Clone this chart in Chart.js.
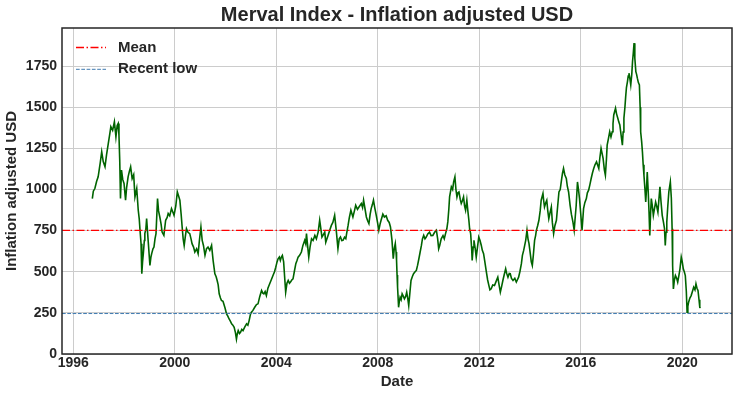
<!DOCTYPE html>
<html><head><meta charset="utf-8">
<script src="https://cdn.jsdelivr.net/npm/chart.js@4.4.1/dist/chart.umd.min.js"></script>
<style>html,body{margin:0;padding:0;background:#fff;}#wrap{width:738px;height:397px;}</style>
</head><body><div id="wrap"><canvas id="c" width="738" height="397"></canvas></div>
<script>
const TITLE = 'Merval Index - Inflation adjusted USD';
const X_LABEL = 'Date';
const Y_LABEL = 'Inflation adjusted USD';
const LEGEND_LABELS = ['Mean', 'Recent low'];
const X_TICKS = [1996, 2000, 2004, 2008, 2012, 2016, 2020];
const Y_TICKS = [0, 250, 500, 750, 1000, 1250, 1500, 1750];
const X_MIN = 1995.555, X_MAX = 2021.96, Y_MIN = 0, Y_MAX = 1982;
const MEAN_VALUE = 752;
const RECENT_LOW_VALUE = 246;

const dates = [
1996.75,1996.79,1996.85,1996.92,1996.98,
1997.06,1997.12,1997.18,1997.25,1997.31,1997.38,1997.44,1997.48,1997.55,1997.62,1997.68,1997.73,1997.77,1997.80,1997.83,1997.86,1997.90,1997.95,
1998.00,1998.06,1998.10,1998.16,1998.21,1998.26,1998.32,1998.38,1998.43,1998.50,1998.56,1998.60,1998.63,1998.67,1998.70,1998.73,1998.76,1998.80,1998.82,1998.86,1998.89,1998.95,
1999.02,1999.06,1999.09,1999.14,1999.18,1999.22,1999.26,1999.32,1999.36,1999.41,1999.46,1999.50,1999.57,1999.64,1999.70,1999.74,1999.80,1999.87,1999.93,1999.97,
2000.04,2000.10,2000.15,2000.20,2000.25,2000.29,2000.33,2000.37,2000.42,2000.46,2000.52,2000.59,2000.64,2000.68,2000.74,2000.79,2000.86,2000.92,2000.97,
2001.03,2001.08,2001.13,2001.19,2001.25,2001.31,2001.38,2001.45,2001.51,2001.58,2001.63,2001.67,2001.71,2001.75,2001.80,2001.84,2001.90,2001.93,2001.98,
2002.04,2002.09,2002.14,2002.19,2002.24,2002.29,2002.34,2002.39,2002.43,2002.46,2002.50,2002.55,2002.59,2002.64,2002.69,2002.76,2002.83,2002.88,2002.93,2002.98,
2003.02,2003.08,2003.15,2003.22,2003.28,2003.35,2003.42,2003.47,2003.51,2003.56,2003.61,2003.67,2003.74,2003.80,2003.87,2003.93,2003.98,
2004.03,2004.07,2004.12,2004.16,2004.20,2004.24,2004.29,2004.33,2004.37,2004.42,2004.47,2004.52,2004.56,2004.61,2004.66,2004.71,2004.77,2004.82,2004.86,2004.92,2004.99,
2005.05,2005.12,2005.16,2005.19,2005.24,2005.28,2005.33,2005.39,2005.45,2005.52,2005.58,2005.65,2005.71,2005.74,2005.80,2005.84,2005.91,2005.95,
2006.04,2006.10,2006.17,2006.23,2006.30,2006.37,2006.43,2006.48,2006.53,2006.58,2006.63,2006.69,2006.74,2006.78,2006.83,2006.88,2006.94,
2007.02,2007.08,2007.13,2007.20,2007.26,2007.35,2007.40,2007.44,2007.50,2007.55,2007.60,2007.65,2007.70,2007.74,2007.79,2007.83,2007.88,2007.94,2007.99,
2008.04,2008.09,2008.13,2008.20,2008.26,2008.33,2008.39,2008.45,2008.50,2008.56,2008.61,2008.65,2008.69,2008.72,2008.74,2008.76,2008.78,2008.82,2008.85,2008.88,2008.92,2008.96,
2009.01,2009.05,2009.10,2009.14,2009.18,2009.22,2009.27,2009.31,2009.36,2009.41,2009.47,2009.52,2009.57,2009.62,2009.67,2009.72,2009.76,2009.81,2009.86,2009.91,2009.97,
2010.04,2010.10,2010.17,2010.24,2010.31,2010.36,2010.40,2010.44,2010.50,2010.57,2010.62,2010.67,2010.72,2010.76,2010.80,2010.83,2010.87,2010.90,2010.95,2010.99,
2011.04,2011.08,2011.12,2011.16,2011.20,2011.25,2011.29,2011.33,2011.38,2011.42,2011.46,2011.51,2011.55,2011.59,2011.62,2011.66,2011.70,2011.72,2011.76,2011.79,2011.84,2011.88,2011.93,2011.98,
2012.03,2012.08,2012.12,2012.17,2012.22,2012.27,2012.33,2012.38,2012.42,2012.47,2012.53,2012.60,2012.66,2012.73,2012.78,2012.83,2012.88,2012.93,2012.98,
2013.04,2013.08,2013.13,2013.18,2013.22,2013.27,2013.33,2013.40,2013.46,2013.50,2013.55,2013.60,2013.66,2013.70,2013.75,2013.79,2013.83,2013.88,2013.92,2013.96,
2014.01,2014.05,2014.09,2014.13,2014.18,2014.22,2014.25,2014.30,2014.35,2014.40,2014.44,2014.51,2014.54,2014.57,2014.62,2014.66,2014.70,2014.74,2014.79,2014.84,2014.88,2014.93,2014.98,
2015.04,2015.09,2015.14,2015.19,2015.24,2015.28,2015.32,2015.37,2015.43,2015.47,2015.52,2015.58,2015.63,2015.69,2015.74,2015.78,2015.82,2015.87,2015.91,2015.95,
2016.00,2016.05,2016.11,2016.16,2016.22,2016.26,2016.31,2016.36,2016.41,2016.46,2016.51,2016.56,2016.62,2016.66,2016.71,2016.75,2016.80,2016.84,2016.88,2016.93,2016.97,
2017.01,2017.04,2017.09,2017.14,2017.19,2017.24,2017.27,2017.30,2017.37,2017.41,2017.46,2017.50,2017.54,2017.59,2017.64,2017.67,2017.70,2017.74,2017.77,2017.80,2017.84,2017.87,2017.90,2017.94,2017.97,
2018.01,2018.04,2018.07,2018.10,2018.13,2018.17,2018.20,2018.23,2018.27,2018.31,2018.34,2018.36,2018.40,2018.43,2018.46,2018.49,2018.53,2018.56,2018.59,2018.62,2018.66,2018.69,2018.72,2018.75,2018.78,2018.82,2018.86,2018.90,2018.95,2018.99,
2019.04,2019.08,2019.12,2019.16,2019.21,2019.26,2019.30,2019.33,2019.36,2019.39,2019.43,2019.47,2019.53,2019.57,2019.60,2019.62,2019.65,2019.69,2019.73,2019.78,2019.82,2019.87,2019.91,2019.96,
2020.00,2020.04,2020.08,2020.12,2020.16,2020.19,2020.22,2020.25,2020.30,2020.35,2020.40,2020.45,2020.50,2020.54,2020.58,2020.62,2020.66,2020.69,2020.72
];

const values = [
945,990,1006,1050,1077,
1160,1229,1170,1138,1210,1280,1340,1382,1360,1412,1320,1390,1402,1330,1179,945,1118,1060,
1037,935,1010,1077,1110,1138,1067,1090,955,1006,874,820,752,671,488,560,610,690,732,760,823,691,
538,590,610,640,650,700,732,945,870,833,790,741,721,813,830,854,840,884,860,843,
900,985,960,935,850,772,700,660,720,762,740,732,700,671,650,620,640,610,690,
772,691,660,600,640,650,630,660,569,488,470,447,420,366,340,325,320,305,280,
244,230,213,200,183,175,162,130,91,120,142,125,132,150,142,165,183,175,203,240,
254,265,284,300,305,350,386,370,366,380,355,400,427,450,477,500,528,
560,579,590,569,590,600,560,467,376,430,447,430,437,450,457,500,549,570,589,600,620,
660,691,670,732,650,589,650,701,690,721,700,741,813,780,711,721,741,680,
721,750,782,800,843,741,640,700,711,690,691,710,701,740,782,830,874,
833,870,904,880,894,915,890,935,880,833,810,793,850,884,910,935,890,843,800,
752,790,813,850,833,840,813,800,772,691,579,640,671,620,569,480,406,284,320,345,330,366,
350,335,350,376,340,294,380,447,470,488,500,508,540,579,620,660,700,721,700,711,730,
741,720,721,740,752,700,640,660,700,720,700,732,760,803,880,955,990,1016,1000,1046,
1077,1000,955,980,985,940,915,930,955,900,874,935,870,813,760,732,640,569,650,691,640,589,650,711,
690,660,630,610,560,508,450,416,390,396,420,416,440,467,420,376,410,447,480,
518,490,467,490,488,460,447,460,437,450,467,500,549,600,630,660,691,752,700,671,
610,560,538,600,691,720,752,780,813,870,935,976,930,894,920,935,870,823,860,894,800,732,780,
813,900,985,1000,1057,1100,1128,1090,1067,1020,985,904,850,803,752,830,904,1046,1000,945,
850,752,884,920,945,980,996,1030,1067,1100,1128,1150,1168,1150,1128,1190,1250,1220,1189,1120,1087,
1180,1270,1310,1351,1320,1351,1400,1453,1494,1460,1433,1410,1392,1330,1270,1350,1433,1500,1565,1620,1656,1690,1707,1670,1636,
1700,1778,1830,1890,1800,1717,1700,1677,1650,1636,1500,1351,1290,1229,1150,1087,1000,924,1000,1107,980,863,721,850,945,900,843,880,924,900,
863,940,1016,930,843,800,762,660,740,803,900,985,1046,945,762,538,396,450,477,460,437,480,518,589,
560,518,500,477,380,254,290,315,340,355,380,406,390,427,400,386,330,284,280
];

const TEXT_COLOR = '#262626';
const FONT_FAMILY = "'Liberation Sans', Arial, Helvetica, sans-serif";
const LINE_COLOR = '#006400';
const MEAN_COLOR = '#ff0000';
const LOW_COLOR = '#3f7ab0';
const MEAN_DASH = [8, 2.5, 1.5, 2.5];
const LOW_DASH = [3.7, 1.6];

if (dates.length !== values.length) console.error('length mismatch', dates.length, values.length);

const frameAndLegend = {
  id: 'frameAndLegend',
  afterDraw(chart) {
    const {ctx, chartArea: a} = chart;
    ctx.save();
    ctx.strokeStyle = TEXT_COLOR;
    ctx.lineWidth = 1.5;
    ctx.setLineDash([]);
    ctx.strokeRect(a.left, a.top, a.right - a.left, a.bottom - a.top);
    const items = [
      {label: LEGEND_LABELS[0], color: MEAN_COLOR, dash: MEAN_DASH, width: 1.3},
      {label: LEGEND_LABELS[1], color: LOW_COLOR, dash: LOW_DASH, width: 1}
    ];
    const x0 = a.left + 14, x1 = x0 + 30, tx = x1 + 12;
    let y = a.top + 19.5;
    ctx.font = 'bold 15px ' + FONT_FAMILY;
    ctx.textBaseline = 'middle';
    ctx.textAlign = 'left';
    items.forEach(it => {
      ctx.beginPath();
      ctx.strokeStyle = it.color;
      ctx.lineWidth = it.width;
      ctx.setLineDash(it.dash);
      ctx.moveTo(x0, y);
      ctx.lineTo(x1, y);
      ctx.stroke();
      ctx.setLineDash([]);
      ctx.fillStyle = TEXT_COLOR;
      ctx.fillText(it.label, tx, y);
      y += 21.8;
    });
    ctx.restore();
  }
};

new Chart(document.getElementById('c'), {
  type: 'line',
  data: {
    datasets: [
      {
        label: LEGEND_LABELS[0],
        data: [{x: X_MIN, y: MEAN_VALUE}, {x: X_MAX, y: MEAN_VALUE}],
        borderColor: MEAN_COLOR, borderWidth: 1.3, borderDash: MEAN_DASH,
        pointRadius: 0, fill: false, order: 0
      },
      {
        label: LEGEND_LABELS[1],
        data: [{x: X_MIN, y: RECENT_LOW_VALUE}, {x: X_MAX, y: RECENT_LOW_VALUE}],
        borderColor: LOW_COLOR, borderWidth: 1, borderDash: LOW_DASH,
        pointRadius: 0, fill: false, order: 1
      },
      {
        label: 'Merval',
        data: dates.map((d, i) => ({x: d, y: values[i]})),
        borderColor: LINE_COLOR, borderWidth: 1.6,
        pointRadius: 0, fill: false, tension: 0, order: 2
      }
    ]
  },
  options: {
    responsive: false,
    devicePixelRatio: 1,
    animation: false,
    layout: {padding: {left: 0, right: 6, top: 0, bottom: 0}},
    plugins: {
      legend: {display: false},
      tooltip: {enabled: false},
      title: {
        display: true, text: TITLE, fullSize: false,
        color: TEXT_COLOR,
        font: {family: FONT_FAMILY, size: 20, weight: 'bold', lineHeight: 1.2},
        padding: {top: 3, bottom: 1}
      }
    },
    scales: {
      x: {
        type: 'linear', min: X_MIN, max: X_MAX,
        afterBuildTicks: s => { s.ticks = X_TICKS.map(v => ({value: v})); },
        afterFit: s => { s.height = 43; },
        grid: {color: '#cccccc', lineWidth: 1, drawTicks: false},
        border: {display: false},
        ticks: {
          color: TEXT_COLOR, padding: 1, maxRotation: 0, autoSkip: false,
          font: {family: FONT_FAMILY, size: 14, weight: 'bold'},
          callback: v => String(v)
        },
        title: {
          display: true, text: X_LABEL, color: TEXT_COLOR,
          font: {family: FONT_FAMILY, size: 15, weight: 'bold', lineHeight: 1.2},
          padding: {top: 0, bottom: 6}
        }
      },
      y: {
        type: 'linear', min: Y_MIN, max: Y_MAX,
        afterBuildTicks: s => { s.ticks = Y_TICKS.map(v => ({value: v})); },
        afterFit: s => { s.width = 62; },
        grid: {color: '#cccccc', lineWidth: 1, drawTicks: false},
        border: {display: false},
        ticks: {
          color: TEXT_COLOR, padding: 5, autoSkip: false,
          font: {family: FONT_FAMILY, size: 14, weight: 'bold'},
          callback: v => String(v)
        },
        title: {
          display: true, text: Y_LABEL, color: TEXT_COLOR,
          font: {family: FONT_FAMILY, size: 15, weight: 'bold', lineHeight: 1.2},
          padding: {top: 3, bottom: 0}
        }
      }
    }
  },
  plugins: [frameAndLegend]
});
</script>
</body></html>
